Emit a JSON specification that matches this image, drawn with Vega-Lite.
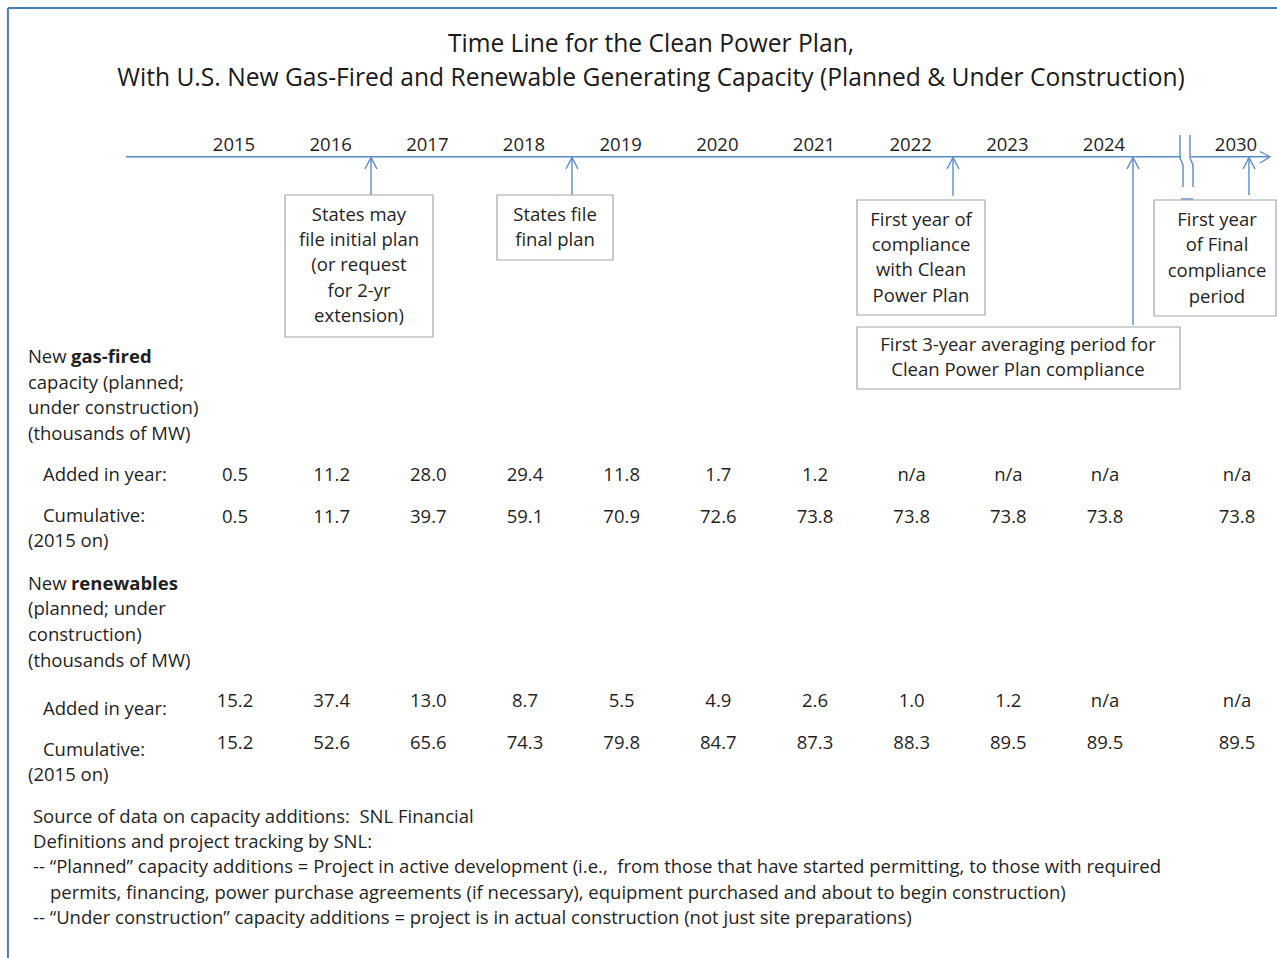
{
  "$schema": "https://vega.github.io/schema/vega-lite/v6.json",
  "width": 1277,
  "height": 958,
  "padding": 0,
  "autosize": {"type": "none"},
  "background": "white",
  "config": {"view": {"stroke": null}},
  "datasets": {
    "frame": [
      {"x": 2012.662, "y": 0.32, "x2": 2030.42, "y2": 0.32},
      {"x": 2012.662, "y": 0.32, "x2": 2012.662, "y2": 38.32}
    ],
    "axisline": [
      {"x": 2013.883, "y": 6.27, "x2": 2027.5, "y2": 6.27},
      {"x": 2027.955, "y": 6.27, "x2": 2030.348, "y2": 6.27}
    ],
    "shafts": [
      {"x": 2016.417, "y": 6.3, "x2": 2016.417, "y2": 7.8},
      {"x": 2018.496, "y": 6.3, "x2": 2018.496, "y2": 7.8},
      {"x": 2022.438, "y": 6.3, "x2": 2022.438, "y2": 7.83},
      {"x": 2025.318, "y": 6.3, "x2": 2025.318, "y2": 13.0},
      {"x": 2030.133, "y": 6.3, "x2": 2030.133, "y2": 7.8},
      {"x": 2027.5, "y": 7.96, "x2": 2028.05, "y2": 7.96}
    ],
    "heads": [
      {"id": "a1", "o": 0, "x": 2016.355, "y": 6.76}, {"id": "a1", "o": 1, "x": 2016.417, "y": 6.3}, {"id": "a1", "o": 2, "x": 2016.479, "y": 6.76},
      {"id": "a2", "o": 0, "x": 2018.434, "y": 6.76}, {"id": "a2", "o": 1, "x": 2018.496, "y": 6.3}, {"id": "a2", "o": 2, "x": 2018.558, "y": 6.76},
      {"id": "a3", "o": 0, "x": 2022.376, "y": 6.76}, {"id": "a3", "o": 1, "x": 2022.438, "y": 6.3}, {"id": "a3", "o": 2, "x": 2022.5, "y": 6.76},
      {"id": "a4", "o": 0, "x": 2025.045, "y": 6.76}, {"id": "a4", "o": 1, "x": 2025.318, "y": 6.3}, {"id": "a4", "o": 2, "x": 2025.591, "y": 6.76},
      {"id": "a5", "o": 0, "x": 2030.072, "y": 6.76}, {"id": "a5", "o": 1, "x": 2030.133, "y": 6.3}, {"id": "a5", "o": 2, "x": 2030.195, "y": 6.76},
      {"id": "tip", "o": 0, "x": 2030.246, "y": 6.06}, {"id": "tip", "o": 1, "x": 2030.348, "y": 6.27}, {"id": "tip", "o": 2, "x": 2030.246, "y": 6.52},
      {"id": "b1", "o": 0, "x": 2027.455, "y": 5.4}, {"id": "b1", "o": 1, "x": 2027.455, "y": 6.32}, {"id": "b1", "o": 2, "x": 2027.591, "y": 6.6}, {"id": "b1", "o": 3, "x": 2027.591, "y": 7.48},
      {"id": "b2", "o": 0, "x": 2027.909, "y": 5.4}, {"id": "b2", "o": 1, "x": 2027.909, "y": 6.32}, {"id": "b2", "o": 2, "x": 2028.045, "y": 6.6}, {"id": "b2", "o": 3, "x": 2028.045, "y": 7.48}
    ],
    "boxes": [
      {"x": 2015.528, "x2": 2017.059, "y": 7.8, "y2": 13.48},
      {"x": 2017.721, "x2": 2018.921, "y": 7.8, "y2": 10.4},
      {"x": 2021.445, "x2": 2022.769, "y": 8.0, "y2": 12.6},
      {"x": 2021.445, "x2": 2027.455, "y": 13.08, "y2": 15.56},
      {"x": 2026.273, "x2": 2030.41, "y": 8.0, "y2": 12.64}
    ],
    "notes": [
      {"x": 2016.293, "y": 8.6, "text": "States may"},
      {"x": 2016.293, "y": 9.6, "text": "file initial plan"},
      {"x": 2016.293, "y": 10.6, "text": "(or request"},
      {"x": 2016.293, "y": 11.64, "text": "for 2-yr"},
      {"x": 2016.293, "y": 12.64, "text": "extension)"},
      {"x": 2018.321, "y": 8.6, "text": "States file"},
      {"x": 2018.321, "y": 9.6, "text": "final plan"},
      {"x": 2022.107, "y": 8.8, "text": "First year of"},
      {"x": 2022.107, "y": 9.8, "text": "compliance"},
      {"x": 2022.107, "y": 10.8, "text": "with Clean"},
      {"x": 2022.107, "y": 11.84, "text": "Power  Plan"},
      {"x": 2023.11, "y": 13.8, "text": "First 3-year averaging period for"},
      {"x": 2023.11, "y": 14.8, "text": "Clean Power  Plan compliance"},
      {"x": 2029.136, "y": 8.8, "text": "First year"},
      {"x": 2029.136, "y": 9.8, "text": "of Final"},
      {"x": 2029.136, "y": 10.84, "text": "compliance"},
      {"x": 2029.136, "y": 11.88, "text": "period"}
    ],
    "years": [
      {"year": 2015}, {"year": 2016}, {"year": 2017}, {"year": 2018}, {"year": 2019}, {"year": 2020},
      {"year": 2021}, {"year": 2022}, {"year": 2023}, {"year": 2024}, {"year": 2030}
    ],
    "title": [
      {"x": 2019.314, "y": 1.8, "text": "Time Line for the Clean Power Plan,"},
      {"x": 2019.314, "y": 3.16, "text": "With U.S. New Gas-Fired and Renewable Generating Capacity (Planned & Under Construction)"}
    ],
    "labels": [
      {"x": 2012.869, "y": 14.28, "text": "New"},
      {"x": 2012.869, "y": 15.32, "text": "capacity (planned;"},
      {"x": 2012.869, "y": 16.32, "text": "under construction)"},
      {"x": 2012.869, "y": 17.36, "text": "(thousands of MW)"},
      {"x": 2013.024, "y": 19.0, "text": "Added in year:"},
      {"x": 2013.024, "y": 20.64, "text": "Cumulative:"},
      {"x": 2012.869, "y": 21.64, "text": "(2015 on)"},
      {"x": 2012.869, "y": 23.36, "text": "New"},
      {"x": 2012.869, "y": 24.36, "text": "(planned; under"},
      {"x": 2012.869, "y": 25.4, "text": "construction)"},
      {"x": 2012.869, "y": 26.44, "text": "(thousands of MW)"},
      {"x": 2013.024, "y": 28.36, "text": "Added in year:"},
      {"x": 2013.024, "y": 30.0, "text": "Cumulative:"},
      {"x": 2012.869, "y": 31.0, "text": "(2015 on)"},
      {"x": 2012.921, "y": 32.68, "text": "Source of data on capacity additions:\u00a0 SNL Financial"},
      {"x": 2012.921, "y": 33.68, "text": "Definitions and project tracking by SNL:"},
      {"x": 2012.921, "y": 34.68, "text": "-- “Planned” capacity additions = Project in active development (i.e.,\u00a0 from those that have started permitting, to those with required"},
      {"x": 2013.097, "y": 35.72, "text": "permits, financing, power purchase agreements (if necessary), equipment purchased and about to begin construction)"},
      {"x": 2012.921, "y": 36.72, "text": "-- “Under construction” capacity additions = project is in actual construction (not just site preparations)"}
    ],
    "boldlabels": [
      {"x": 2013.314, "y": 14.28, "text": "gas-fired"},
      {"x": 2013.314, "y": 23.36, "text": "renewables"}
    ],
    "rows": [
      {"row": "gas_added", "y": 19.0},
      {"row": "gas_cum", "y": 20.68},
      {"row": "ren_added", "y": 28.04},
      {"row": "ren_cum", "y": 29.72}
    ],
    "capacity": [
      {"row": "gas_added", "year": 2015, "value": 0.5},
      {"row": "gas_added", "year": 2016, "value": 11.2},
      {"row": "gas_added", "year": 2017, "value": 28.0},
      {"row": "gas_added", "year": 2018, "value": 29.4},
      {"row": "gas_added", "year": 2019, "value": 11.8},
      {"row": "gas_added", "year": 2020, "value": 1.7},
      {"row": "gas_added", "year": 2021, "value": 1.2},
      {"row": "gas_added", "year": 2022, "value": null},
      {"row": "gas_added", "year": 2023, "value": null},
      {"row": "gas_added", "year": 2024, "value": null},
      {"row": "gas_added", "year": 2030, "value": null},
      {"row": "gas_cum", "year": 2015, "value": 0.5},
      {"row": "gas_cum", "year": 2016, "value": 11.7},
      {"row": "gas_cum", "year": 2017, "value": 39.7},
      {"row": "gas_cum", "year": 2018, "value": 59.1},
      {"row": "gas_cum", "year": 2019, "value": 70.9},
      {"row": "gas_cum", "year": 2020, "value": 72.6},
      {"row": "gas_cum", "year": 2021, "value": 73.8},
      {"row": "gas_cum", "year": 2022, "value": 73.8},
      {"row": "gas_cum", "year": 2023, "value": 73.8},
      {"row": "gas_cum", "year": 2024, "value": 73.8},
      {"row": "gas_cum", "year": 2030, "value": 73.8},
      {"row": "ren_added", "year": 2015, "value": 15.2},
      {"row": "ren_added", "year": 2016, "value": 37.4},
      {"row": "ren_added", "year": 2017, "value": 13.0},
      {"row": "ren_added", "year": 2018, "value": 8.7},
      {"row": "ren_added", "year": 2019, "value": 5.5},
      {"row": "ren_added", "year": 2020, "value": 4.9},
      {"row": "ren_added", "year": 2021, "value": 2.6},
      {"row": "ren_added", "year": 2022, "value": 1.0},
      {"row": "ren_added", "year": 2023, "value": 1.2},
      {"row": "ren_added", "year": 2024, "value": null},
      {"row": "ren_added", "year": 2030, "value": null},
      {"row": "ren_cum", "year": 2015, "value": 15.2},
      {"row": "ren_cum", "year": 2016, "value": 52.6},
      {"row": "ren_cum", "year": 2017, "value": 65.6},
      {"row": "ren_cum", "year": 2018, "value": 74.3},
      {"row": "ren_cum", "year": 2019, "value": 79.8},
      {"row": "ren_cum", "year": 2020, "value": 84.7},
      {"row": "ren_cum", "year": 2021, "value": 87.3},
      {"row": "ren_cum", "year": 2022, "value": 88.3},
      {"row": "ren_cum", "year": 2023, "value": 89.5},
      {"row": "ren_cum", "year": 2024, "value": 89.5},
      {"row": "ren_cum", "year": 2030, "value": 89.5}
    ]
  },
  "layer": [
    {
      "data": {"name": "frame"},
      "mark": {"type": "rule", "stroke": "#4a7ebb", "strokeWidth": 2},
      "encoding": {
        "x": {"field": "x", "type": "quantitative", "axis": null, "scale": {"domain": [2012.58, 2015, 2024, 2030, 2030.42], "range": [0, 234, 1104, 1236, 1277], "nice": false, "zero": false}},
        "y": {"field": "y", "type": "quantitative", "axis": null, "scale": {"domain": [0, 38.32], "range": [0, 958], "nice": false, "zero": false}},
        "x2": {"field": "x2"},
        "y2": {"field": "y2"}
      }
    },
    {
      "data": {"name": "axisline"},
      "mark": {"type": "rule", "stroke": "#5b8cc8", "strokeWidth": 1.6},
      "encoding": {
        "x": {"field": "x", "type": "quantitative", "axis": null, "scale": {"domain": [2012.58, 2015, 2024, 2030, 2030.42], "range": [0, 234, 1104, 1236, 1277], "nice": false, "zero": false}},
        "y": {"field": "y", "type": "quantitative", "axis": null, "scale": {"domain": [0, 38.32], "range": [0, 958], "nice": false, "zero": false}},
        "x2": {"field": "x2"},
        "y2": {"field": "y2"}
      }
    },
    {
      "data": {"name": "shafts"},
      "mark": {"type": "rule", "stroke": "#5b8cc8", "strokeWidth": 1.4},
      "encoding": {
        "x": {"field": "x", "type": "quantitative", "axis": null, "scale": {"domain": [2012.58, 2015, 2024, 2030, 2030.42], "range": [0, 234, 1104, 1236, 1277], "nice": false, "zero": false}},
        "y": {"field": "y", "type": "quantitative", "axis": null, "scale": {"domain": [0, 38.32], "range": [0, 958], "nice": false, "zero": false}},
        "x2": {"field": "x2"},
        "y2": {"field": "y2"}
      }
    },
    {
      "data": {"name": "heads"},
      "mark": {"type": "line", "stroke": "#5b8cc8", "strokeWidth": 1.4},
      "encoding": {
        "x": {"field": "x", "type": "quantitative", "axis": null, "scale": {"domain": [2012.58, 2015, 2024, 2030, 2030.42], "range": [0, 234, 1104, 1236, 1277], "nice": false, "zero": false}},
        "y": {"field": "y", "type": "quantitative", "axis": null, "scale": {"domain": [0, 38.32], "range": [0, 958], "nice": false, "zero": false}},
        "detail": {"field": "id"},
        "order": {"field": "o"}
      }
    },
    {
      "data": {"name": "boxes"},
      "mark": {"type": "rect", "fill": "white", "stroke": "#a6a6a6", "strokeWidth": 1.2},
      "encoding": {
        "x": {"field": "x", "type": "quantitative", "axis": null, "scale": {"domain": [2012.58, 2015, 2024, 2030, 2030.42], "range": [0, 234, 1104, 1236, 1277], "nice": false, "zero": false}},
        "y": {"field": "y", "type": "quantitative", "axis": null, "scale": {"domain": [0, 38.32], "range": [0, 958], "nice": false, "zero": false}},
        "x2": {"field": "x2"},
        "y2": {"field": "y2"}
      }
    },
    {
      "data": {"name": "notes"},
      "mark": {"type": "text", "font": "Open Sans", "fontSize": 18.5, "fill": "#1f1f1f", "align": "center", "baseline": "middle"},
      "encoding": {
        "x": {"field": "x", "type": "quantitative", "axis": null, "scale": {"domain": [2012.58, 2015, 2024, 2030, 2030.42], "range": [0, 234, 1104, 1236, 1277], "nice": false, "zero": false}},
        "y": {"field": "y", "type": "quantitative", "axis": null, "scale": {"domain": [0, 38.32], "range": [0, 958], "nice": false, "zero": false}},
        "text": {"field": "text"}
      }
    },
    {
      "data": {"name": "years"},
      "mark": {"type": "text", "font": "Open Sans", "fontSize": 18.5, "fill": "#1f1f1f", "align": "center", "baseline": "middle"},
      "encoding": {
        "x": {"field": "year", "type": "quantitative", "axis": null, "scale": {"domain": [2012.58, 2015, 2024, 2030, 2030.42], "range": [0, 234, 1104, 1236, 1277], "nice": false, "zero": false}},
        "y": {"datum": 5.8, "type": "quantitative", "axis": null, "scale": {"domain": [0, 38.32], "range": [0, 958], "nice": false, "zero": false}},
        "text": {"field": "year", "type": "nominal"}
      }
    },
    {
      "data": {"name": "title"},
      "mark": {"type": "text", "font": "Open Sans", "fontSize": 24.6, "fill": "#1a1a1a", "align": "center", "baseline": "middle"},
      "encoding": {
        "x": {"field": "x", "type": "quantitative", "axis": null, "scale": {"domain": [2012.58, 2015, 2024, 2030, 2030.42], "range": [0, 234, 1104, 1236, 1277], "nice": false, "zero": false}},
        "y": {"field": "y", "type": "quantitative", "axis": null, "scale": {"domain": [0, 38.32], "range": [0, 958], "nice": false, "zero": false}},
        "text": {"field": "text"}
      }
    },
    {
      "data": {"name": "labels"},
      "mark": {"type": "text", "font": "Open Sans", "fontSize": 18.5, "fill": "#1f1f1f", "align": "left", "baseline": "middle"},
      "encoding": {
        "x": {"field": "x", "type": "quantitative", "axis": null, "scale": {"domain": [2012.58, 2015, 2024, 2030, 2030.42], "range": [0, 234, 1104, 1236, 1277], "nice": false, "zero": false}},
        "y": {"field": "y", "type": "quantitative", "axis": null, "scale": {"domain": [0, 38.32], "range": [0, 958], "nice": false, "zero": false}},
        "text": {"field": "text"}
      }
    },
    {
      "data": {"name": "boldlabels"},
      "mark": {"type": "text", "font": "Open Sans", "fontSize": 18.5, "fontWeight": "bold", "fill": "#1f1f1f", "align": "left", "baseline": "middle"},
      "encoding": {
        "x": {"field": "x", "type": "quantitative", "axis": null, "scale": {"domain": [2012.58, 2015, 2024, 2030, 2030.42], "range": [0, 234, 1104, 1236, 1277], "nice": false, "zero": false}},
        "y": {"field": "y", "type": "quantitative", "axis": null, "scale": {"domain": [0, 38.32], "range": [0, 958], "nice": false, "zero": false}},
        "text": {"field": "text"}
      }
    },
    {
      "data": {"name": "capacity"},
      "transform": [
        {"lookup": "row", "from": {"data": {"name": "rows"}, "key": "row", "fields": ["y"]}},
        {"calculate": "isValid(datum.value) ? format(datum.value, '.1f') : 'n/a'", "as": "label"}
      ],
      "mark": {"type": "text", "font": "Open Sans", "fontSize": 18.5, "fill": "#1f1f1f", "align": "center", "baseline": "middle", "dx": 1},
      "encoding": {
        "x": {"field": "year", "type": "quantitative", "axis": null, "scale": {"domain": [2012.58, 2015, 2024, 2030, 2030.42], "range": [0, 234, 1104, 1236, 1277], "nice": false, "zero": false}},
        "y": {"field": "y", "type": "quantitative", "axis": null, "scale": {"domain": [0, 38.32], "range": [0, 958], "nice": false, "zero": false}},
        "text": {"field": "label"}
      }
    }
  ]
}
